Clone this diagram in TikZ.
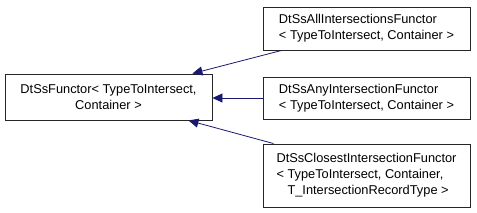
\documentclass[tikz,border=0pt]{standalone}
\usepackage{fontspec}
\setmainfont{Liberation Sans}
\usetikzlibrary{arrows.meta}
\definecolor{edgeblue}{RGB}{25,25,112}
\begin{document}
\begin{tikzpicture}[x=1pt,y=-1pt,
  cls/.style={draw=black!85, line width=0.9pt, fill=white, inner sep=0pt, minimum width=207pt,
    font=\fontsize{12.8}{16}\selectfont},
  inh/.style={draw=edgeblue, line width=0.8pt, -{Triangle[length=10pt,width=9pt]}}]
\useasboundingbox (0,0) rectangle (477,213);
\node[cls, minimum height=46pt, align=center] (base) at (108.5,97) {DtSsFunctor< TypeToIntersect,\\Container >};
\node[cls, minimum height=43pt, align=left] (b1) at (366.5,28.5) {DtSsAllIntersectionsFunctor\\< TypeToIntersect, Container >};
\node[cls, minimum height=42pt, align=left] (b2) at (366.5,98) {DtSsAnyIntersectionFunctor\\< TypeToIntersect, Container >};
\node[cls, minimum height=63pt, align=left] (b3) at (366.5,175.5) {DtSsClosestIntersectionFunctor\\< TypeToIntersect, Container,\\\hspace*{11pt}T\_IntersectionRecordType >};
\draw[inh] ([xshift=19pt]b1.south west) -- ([xshift=-20pt]base.north east);
\draw[inh] (b2.west) -- (base.east |- b2.west);
\draw[inh] ([xshift=11pt]b3.north west) -- ([xshift=-24pt]base.south east);
\end{tikzpicture}
\end{document}
